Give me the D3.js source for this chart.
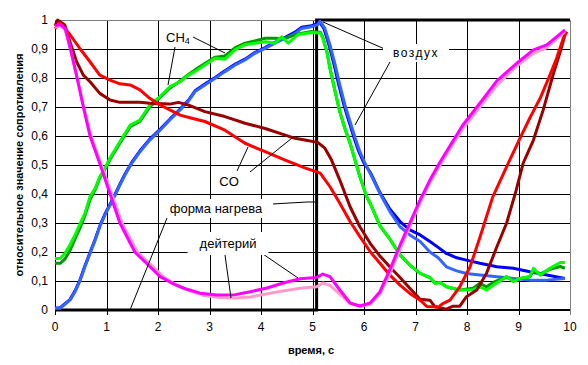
<!DOCTYPE html>
<html><head><meta charset="utf-8">
<script src="https://cdn.jsdelivr.net/npm/d3@7"></script>
<style>
html,body{margin:0;padding:0;background:#fff;}
#wrap{position:relative;width:588px;height:365px;}
#wrap svg{position:absolute;left:0;top:0;display:block;}
text{font-family:"Liberation Sans",Arial,sans-serif;}
</style></head>
<body>
<div id="wrap">
<svg id="gridsvg" width="588" height="365"></svg>
<svg id="chart" width="588" height="365"></svg>
</div>
<script>
// ---------- data ----------
const xTicks = [0,1,2,3,4,5,6,7,8,9,10];
const yTicks = [0,0.1,0.2,0.3,0.4,0.5,0.6,0.7,0.8,0.9,1];
const yTickLabels = ["0","0,1","0,2","0,3","0,4","0,5","0,6","0,7","0,8","0,9","1"];

const heatTime = [0, 5.08, 5.08, 10];
const heatLevel = [0, 0, 1, 1];

const air1 = [[0,0.006],[0.1,0.006],[0.29,0.034],[0.39,0.063],[0.49,0.103],[0.58,0.149],[0.68,0.195],[0.78,0.241],[0.87,0.287],[0.97,0.328],[1.07,0.362],[1.17,0.397],[1.26,0.431],[1.36,0.466],[1.49,0.506],[1.65,0.546],[1.84,0.586],[2.04,0.62],[2.23,0.655],[2.43,0.69],[2.59,0.72],[2.72,0.753],[2.91,0.776],[3.11,0.799],[3.3,0.822],[3.5,0.845],[3.69,0.862],[3.88,0.885],[4.08,0.902],[4.27,0.92],[4.47,0.937],[4.66,0.953],[4.79,0.971],[4.98,0.977],[5.1,0.983],[5.15,0.995],[5.24,0.971],[5.34,0.914],[5.44,0.845],[5.53,0.776],[5.63,0.707],[5.73,0.649],[5.83,0.592],[5.92,0.546],[6.02,0.506],[6.12,0.471],[6.31,0.402],[6.5,0.34],[6.7,0.287],[6.89,0.259],[7.09,0.236],[7.28,0.2],[7.44,0.18],[7.6,0.149],[7.8,0.135],[7.99,0.126],[8.25,0.121],[8.58,0.115],[8.9,0.109],[9.22,0.103],[9.55,0.103],[9.9,0.109]];
const air2 = [[0,0.006],[0.1,0.008],[0.29,0.036],[0.39,0.066],[0.49,0.106],[0.58,0.152],[0.68,0.198],[0.78,0.244],[0.87,0.29],[0.97,0.331],[1.07,0.365],[1.17,0.4],[1.26,0.434],[1.36,0.469],[1.49,0.509],[1.65,0.549],[1.84,0.589],[2.04,0.623],[2.23,0.658],[2.43,0.693],[2.59,0.723],[2.72,0.756],[2.91,0.779],[3.11,0.802],[3.3,0.825],[3.5,0.848],[3.69,0.865],[3.88,0.888],[4.08,0.905],[4.27,0.923],[4.47,0.94],[4.66,0.958],[4.79,0.975],[4.98,0.98],[5.1,0.988],[5.13,0.995],[5.22,0.971],[5.32,0.914],[5.42,0.845],[5.51,0.776],[5.61,0.707],[5.71,0.649],[5.81,0.592],[5.9,0.546],[6.0,0.506],[6.12,0.475],[6.31,0.405],[6.5,0.348],[6.7,0.305],[6.89,0.276],[7.09,0.259],[7.28,0.236],[7.44,0.216],[7.6,0.195],[7.8,0.18],[7.99,0.172],[8.25,0.161],[8.58,0.149],[8.9,0.144],[9.22,0.132],[9.55,0.121],[9.9,0.109]];

const ch4a = [[0,0.178],[0.1,0.178],[0.19,0.195],[0.29,0.224],[0.39,0.259],[0.49,0.299],[0.58,0.333],[0.68,0.391],[0.78,0.42],[0.87,0.46],[0.97,0.489],[1.07,0.525],[1.26,0.58],[1.46,0.638],[1.65,0.655],[1.84,0.707],[2.04,0.736],[2.23,0.77],[2.43,0.787],[2.59,0.81],[2.72,0.822],[2.91,0.845],[3.11,0.868],[3.3,0.865],[3.5,0.898],[3.69,0.915],[3.88,0.92],[4.08,0.925],[4.27,0.92],[4.4,0.942],[4.53,0.92],[4.72,0.95],[4.98,0.957],[5.15,0.955],[5.2,0.937],[5.28,0.89],[5.34,0.833],[5.44,0.753],[5.53,0.684],[5.63,0.626],[5.73,0.575],[5.83,0.514],[5.92,0.46],[6.05,0.391],[6.12,0.368],[6.31,0.29],[6.5,0.245],[6.7,0.19],[6.89,0.155],[7.09,0.126],[7.28,0.112],[7.38,0.092],[7.48,0.095],[7.6,0.08],[7.86,0.069],[8.12,0.07],[8.25,0.08],[8.38,0.069],[8.51,0.085],[8.77,0.115],[8.9,0.098],[9.03,0.109],[9.22,0.115],[9.29,0.144],[9.42,0.12],[9.61,0.144],[9.81,0.164],[9.9,0.164]];
const ch4b = [[0,0.161],[0.1,0.161],[0.19,0.175],[0.29,0.205],[0.39,0.245],[0.49,0.285],[0.58,0.325],[0.68,0.38],[0.78,0.415],[0.87,0.455],[0.97,0.485],[1.07,0.52],[1.26,0.575],[1.46,0.632],[1.65,0.65],[1.84,0.7],[2.04,0.733],[2.23,0.765],[2.43,0.79],[2.59,0.812],[2.72,0.828],[2.91,0.85],[3.11,0.872],[3.3,0.876],[3.5,0.905],[3.69,0.92],[3.88,0.928],[4.08,0.937],[4.27,0.937],[4.4,0.935],[4.53,0.94],[4.72,0.952],[4.98,0.96],[5.15,0.958],[5.2,0.94],[5.28,0.89],[5.34,0.833],[5.44,0.753],[5.53,0.684],[5.63,0.626],[5.73,0.575],[5.83,0.514],[5.92,0.46],[6.05,0.391],[6.12,0.368],[6.31,0.29],[6.5,0.245],[6.7,0.19],[6.89,0.155],[7.09,0.126],[7.28,0.112],[7.38,0.092],[7.48,0.095],[7.6,0.08],[7.86,0.069],[8.12,0.075],[8.25,0.092],[8.38,0.08],[8.51,0.095],[8.77,0.115],[8.9,0.1],[9.03,0.109],[9.22,0.115],[9.29,0.135],[9.42,0.125],[9.61,0.14],[9.81,0.15],[9.9,0.144]];

const co1 = [[0,0.97],[0.1,0.99],[0.29,0.95],[0.49,0.9],[0.68,0.856],[0.87,0.81],[1.07,0.793],[1.26,0.78],[1.46,0.776],[1.65,0.759],[1.84,0.73],[2.04,0.707],[2.23,0.69],[2.43,0.672],[2.62,0.663],[2.91,0.65],[3.3,0.62],[3.69,0.575],[4.08,0.546],[4.47,0.517],[4.85,0.49],[5.15,0.472],[5.34,0.425],[5.53,0.368],[5.73,0.305],[5.92,0.253],[6.12,0.201],[6.31,0.161],[6.5,0.121],[6.7,0.086],[6.89,0.057],[7.09,0.034],[7.22,0.012],[7.44,0.01],[7.54,0.023],[7.67,0.034],[7.86,0.08],[8.06,0.149],[8.25,0.25],[8.5,0.39],[8.8,0.506],[9.03,0.593],[9.22,0.662],[9.42,0.73],[9.61,0.81],[9.74,0.868],[9.87,0.937],[9.94,0.96]];
const co2 = [[0,0.98],[0.05,1.0],[0.19,0.983],[0.29,0.925],[0.42,0.856],[0.55,0.81],[0.68,0.787],[0.87,0.747],[1.07,0.724],[1.26,0.716],[1.65,0.716],[1.84,0.713],[2.23,0.71],[2.4,0.716],[2.62,0.705],[2.91,0.684],[3.3,0.667],[3.69,0.644],[4.08,0.626],[4.47,0.603],[4.66,0.592],[4.85,0.586],[5.1,0.578],[5.24,0.558],[5.37,0.517],[5.53,0.448],[5.73,0.356],[5.92,0.287],[6.12,0.23],[6.31,0.186],[6.5,0.149],[6.7,0.112],[6.89,0.075],[7.09,0.037],[7.28,0.034],[7.38,0.011],[7.6,0.003],[7.73,0.013],[7.86,0.013],[7.99,0.046],[8.19,0.069],[8.38,0.127],[8.58,0.218],[8.77,0.3],[8.95,0.41],[9.09,0.506],[9.29,0.586],[9.48,0.69],[9.67,0.81],[9.81,0.89],[9.9,0.948]];

const deut1 = [[0,0.98],[0.1,0.985],[0.2,0.97],[0.3,0.9],[0.43,0.8],[0.55,0.7],[0.68,0.6],[0.88,0.5],[1.07,0.4],[1.26,0.3],[1.55,0.2],[1.84,0.15],[2.04,0.115],[2.3,0.09],[2.5,0.075],[2.82,0.058],[3.14,0.052],[3.5,0.053],[3.79,0.063],[4.1,0.075],[4.43,0.093],[4.76,0.108],[5.08,0.112],[5.2,0.124],[5.34,0.115],[5.53,0.069],[5.73,0.024],[5.92,0.014],[6.12,0.024],[6.31,0.063],[6.5,0.138],[6.7,0.224],[6.89,0.3],[7.09,0.38],[7.28,0.448],[7.46,0.505],[7.7,0.575],[7.92,0.638],[8.25,0.713],[8.58,0.79],[8.96,0.85],[9.29,0.897],[9.55,0.914],[9.74,0.942],[9.9,0.966]];
const deut2 = [[0,0.975],[0.1,0.98],[0.2,0.965],[0.3,0.9],[0.43,0.8],[0.56,0.7],[0.7,0.6],[0.9,0.5],[1.1,0.4],[1.3,0.3],[1.6,0.2],[1.9,0.15],[2.1,0.115],[2.35,0.087],[2.6,0.067],[2.9,0.05],[3.2,0.043],[3.5,0.041],[3.8,0.045],[4.1,0.055],[4.4,0.065],[4.76,0.075],[5.08,0.08],[5.2,0.093],[5.34,0.085],[5.53,0.055],[5.73,0.022],[5.92,0.013],[6.12,0.02],[6.31,0.055],[6.5,0.125],[6.7,0.21],[6.89,0.29],[7.09,0.37],[7.28,0.44],[7.46,0.495],[7.7,0.565],[7.92,0.625],[8.25,0.7],[8.58,0.775],[8.96,0.84],[9.29,0.885],[9.55,0.905],[9.74,0.935],[9.9,0.96]];

const seriesList = [
  {name:"air2", data: air2, color:"#0000ff"},
  {name:"air1", data: air1, color:"#3366ff"},
  {name:"ch4b", data: ch4b, color:"#009900"},
  {name:"ch4a", data: ch4a, color:"#00ff00"},
  {name:"co2", data: co2, color:"#990000"},
  {name:"co1", data: co1, color:"#ff0000"},
  {name:"deut2", data: deut2, color:"#ff99cc"},
  {name:"deut1", data: deut1, color:"#ff00ff"}
];

// ---------- scales ----------
const x = d3.scaleLinear().domain([0,10]).range([55,570]);
const y = d3.scaleLinear().domain([0,1]).range([310,20]);
const W = x(10)-x(0), H = y(0)-y(1);

// ---------- grid layer (separate svg underneath) ----------
const gsvg = d3.select("#gridsvg");
// CSS-background copy of the grid (same pixels as the svg lines)
const bgImg=[], bgSize=[], bgPos=[];
function bgLine(col, w, h, px, py){ bgImg.push(`linear-gradient(${col},${col})`); bgSize.push(`${w}px ${h}px`); bgPos.push(`${px}px ${py}px`); }
yTicks.slice(1,10).forEach(v=>bgLine("#000", W, 1, x(0), Math.round(y(v))));
xTicks.slice(1,10).forEach(v=>bgLine("#000", 1, H+5, Math.round(x(v)), y(1)));
bgLine("#808080", W, 1, x(0), y(1));
bgLine("#808080", 1, H+5, x(10), y(1));
bgLine("#000", 1, H+5, x(0), y(1));
bgLine("#000", W, 2, x(0), y(0)-1);
gsvg.style("background-color","#fff").style("background-image",bgImg.join(","))
  .style("background-size",bgSize.join(",")).style("background-position",bgPos.join(","))
  .style("background-repeat","no-repeat");

// svg grid lines
gsvg.selectAll("line.h").data(yTicks.slice(1,10)).enter().append("line").attr("class","h")
  .attr("x1",x(0)).attr("x2",x(10)).attr("y1",d=>Math.round(y(d))+0.5).attr("y2",d=>Math.round(y(d))+0.5)
  .attr("stroke","#000").attr("stroke-width",1);
gsvg.selectAll("line.v").data(xTicks.slice(0,10)).enter().append("line").attr("class","v")
  .attr("x1",d=>Math.round(x(d))+0.5).attr("x2",d=>Math.round(x(d))+0.5).attr("y1",y(1)).attr("y2",y(0)+5)
  .attr("stroke","#000").attr("stroke-width",1);
gsvg.append("line").attr("x1",x(0)).attr("x2",x(10)).attr("y1",y(1)+0.5).attr("y2",y(1)+0.5).attr("stroke","#808080");
gsvg.append("line").attr("x1",x(10)+0.5).attr("x2",x(10)+0.5).attr("y1",y(1)).attr("y2",y(0)+5).attr("stroke","#808080");
gsvg.append("line").attr("x1",x(0)).attr("x2",x(10)).attr("y1",y(0)).attr("y2",y(0)).attr("stroke","#000").attr("stroke-width",2);

// ---------- main chart (transparent, on top) ----------
const svg = d3.select("#chart");

svg.selectAll("text.yl").data(yTicks).enter().append("text").attr("class","yl")
  .attr("x",48).attr("y",d=>y(d)+4).attr("text-anchor","end").attr("font-size",12)
  .text((d,i)=>yTickLabels[i]);
svg.selectAll("text.xl").data(xTicks).enter().append("text").attr("class","xl")
  .attr("x",d=>x(d)).attr("y",331).attr("text-anchor","middle").attr("font-size",12)
  .text(d=>String(d));
svg.append("text").attr("transform","translate(23,165) rotate(-90)").attr("text-anchor","middle")
  .attr("font-size",11).attr("font-weight","bold").text("относительное значение сопротивления");
svg.append("text").attr("x",311).attr("y",354).attr("text-anchor","middle")
  .attr("font-size",11).attr("font-weight","bold").text("время, с");

// heating shape
const lineGen = d3.line().x(d=>x(d[0])).y(d=>y(d[1]));
const heat = heatTime.map((t,i)=>[t,heatLevel[i]]);
svg.append("path").attr("d",lineGen(heat)).attr("fill","none").attr("stroke","#000").attr("stroke-width",3);

// series
seriesList.forEach(s=>{
  svg.append("path").attr("d",lineGen(s.data)).attr("fill","none").attr("stroke",s.color)
    .attr("stroke-width",3).attr("stroke-linejoin","round");
});

// leader lines
const leaders = [
  [193,37,225,53],[175,47,168,85],
  [387,50,323,22],[390,62,355,125],
  [237,171,248,147],[250,172,292,138],
  [272,204,307,202],[307,202,316,202],[167,218,130,310],
  [225,255,231,298],[260,252,298,278]
];
svg.selectAll("line.ld").data(leaders).enter().append("line").attr("class","ld")
  .attr("x1",d=>d[0]).attr("y1",d=>d[1]).attr("x2",d=>d[2]).attr("y2",d=>d[3])
  .attr("stroke","#000").attr("stroke-width",1);

// labels with white boxes
function label(txt, cx, baseline, padX, padY, size, ls){
  const grp = svg.append("g");
  const r = grp.append("rect").attr("fill","#fff");
  const t = grp.append("text").attr("x",cx).attr("y",baseline).attr("text-anchor","middle")
    .attr("font-size",size).attr("letter-spacing",ls||0).text(txt);
  const b = t.node().getBBox();
  r.attr("x",b.x-padX).attr("y",b.y-padY).attr("width",b.width+2*padX).attr("height",b.height+2*padY);
  return t;
}
label("воздух", 416, 57, 10, 2, 12, 1.5);
label("форма нагрева", 216, 213, 10, 2, 13, 0);
label("дейтерий", 228, 248, 12, 4, 13, 0);
label("CO", 229, 186, 2, 1, 13, 0);
const ch = svg.append("text").attr("x",166).attr("y",42).attr("font-size",13);
ch.append("tspan").text("CH");
ch.append("tspan").attr("font-size",9).attr("dy",2).text("4");
</script>
</body></html>
